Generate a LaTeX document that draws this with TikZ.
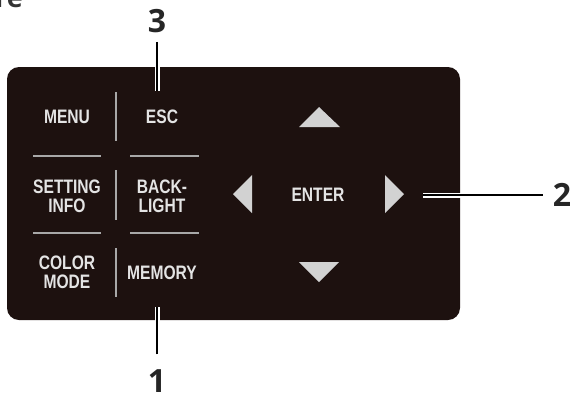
\documentclass[tikz,border=0pt]{standalone}
\usepackage{fontspec}
\usepackage{xcolor}
\setmainfont{Liberation Sans}
\newfontfamily\keyfont[FakeStretch=0.8]{Liberation Sans}
\newfontfamily\numfont{Open Sans}
\definecolor{panelbrown}{HTML}{1D110F}
\definecolor{keygrey}{HTML}{E4E4E4}
\definecolor{rulegrey}{HTML}{A8A8A8}
\definecolor{arrowgrey}{HTML}{D2D2D2}
\tikzset{
  keytext/.style={text=keygrey, font=\keyfont\bfseries\fontsize{19.5}{19}\selectfont, align=center, inner sep=1pt},
  numlabel/.style={font=\numfont\bfseries\fontsize{32}{32}\selectfont, text=black!85, inner sep=1pt},
  leader/.style={draw=white, double=black, double distance=2pt, line width=1.5pt},
  divider/.style={draw=rulegrey, line width=1.6pt}
}
\begin{document}
\begin{tikzpicture}[x=1pt,y=-1pt]
				\useasboundingbox (0,0) rectangle (571,397);
				% Cut heading
				\node[font=\numfont\bfseries\fontsize{27}{27}\selectfont, text=black!80, anchor=base east, inner sep=0pt] (heading) at (23,7) {re};
				
				% Panel
				\fill[panelbrown, rounded corners=12pt] (7,67) rectangle (460,320);
				
				% Dividers
				\draw[divider] (116,92) -- (116,141);
				\draw[divider] (116,170) -- (116,220);
				\draw[divider] (116,248) -- (116,297);
				\draw[divider] (33,156) -- (101,156);
				\draw[divider] (130,156) -- (199,156);
				\draw[divider] (33,233) -- (101,233);
				\draw[divider] (130,233) -- (199,233);
				
				% Keys
				\node[keytext] (menu) at (67,117) {MENU};
				\node[keytext] (esc) at (162,117) {ESC};
				\node[keytext] (setting) at (67,196.5) {SETTING\\INFO};
				\node[keytext] (backlight) at (162,196.5) {BACK-\\LIGHT};
				\node[keytext] (colormode) at (67,272.5) {COLOR\\MODE};
				\node[keytext] (memory) at (162,273) {MEMORY};
				\node[keytext] (enter) at (318,195) {ENTER};
				
				% Cursor arrows
				\fill[arrowgrey] (319,107) -- (340,127) -- (299,127) -- cycle;
				\fill[arrowgrey] (319,282) -- (299,262) -- (339,262) -- cycle;
				\fill[arrowgrey] (233,194) -- (252,175) -- (252,213) -- cycle;
				\fill[arrowgrey] (404,194) -- (385,175) -- (385,213) -- cycle;
				
				% Callouts
				\node[numlabel] (lbl3) at (157,21) {3};
				\node[numlabel] (lbl1) at (157,381) {1};
				\node[numlabel] (lbl2) at (562,195) {2};
				\coordinate (tip3) at (157,91);
				\coordinate (tip1) at (157,307);
				\coordinate (tip2) at (423,195);
				\draw[leader, shorten <=8pt] (lbl3) -- (tip3);
				\draw[leader, shorten <=14pt] (lbl1) -- (tip1);
				\draw[leader, shorten <=9pt] (lbl2) -- (tip2);
			\end{tikzpicture}
\end{document}
